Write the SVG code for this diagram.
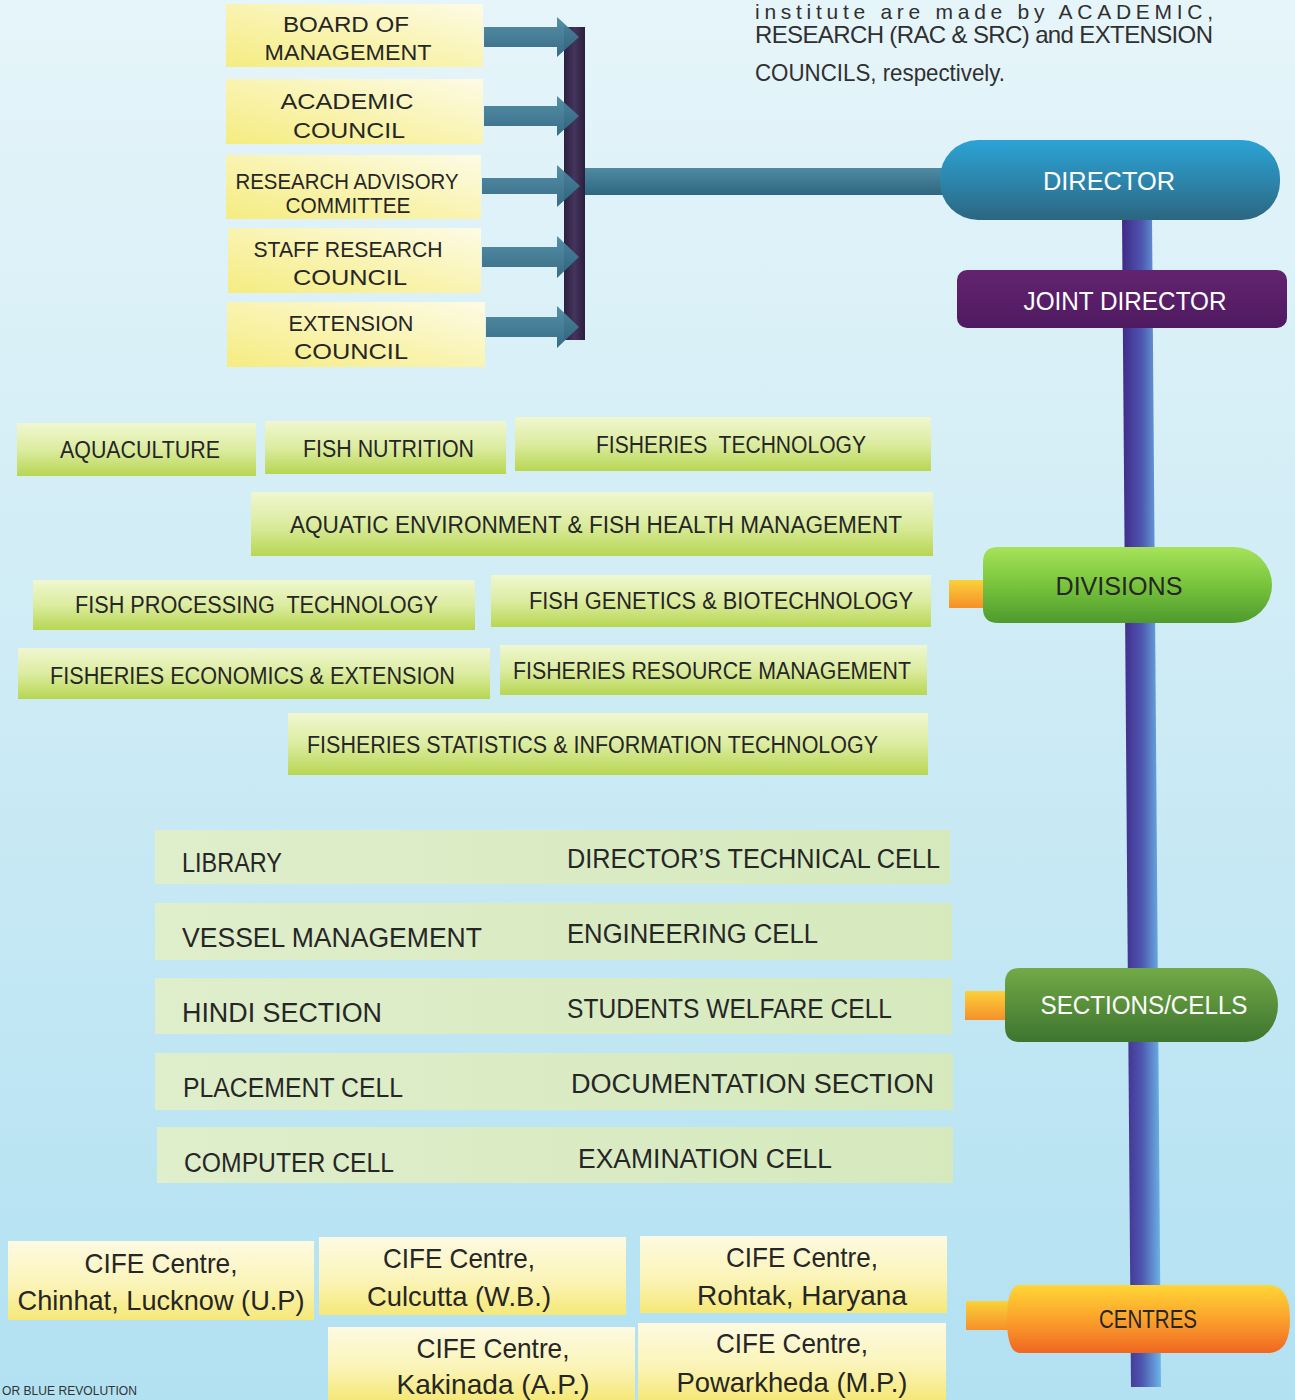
<svg xmlns="http://www.w3.org/2000/svg" width="1295" height="1400" viewBox="0 0 1295 1400">
<defs>
<linearGradient id="bg" x1="0" y1="0" x2="0" y2="1"><stop offset="0" stop-color="#e6f5fa"/><stop offset="0.5" stop-color="#cdebf5"/><stop offset="1" stop-color="#b2e1f2"/></linearGradient>
<linearGradient id="yel" x1="0" y1="1" x2="1" y2="0"><stop offset="0" stop-color="#f5ec80"/><stop offset="0.6" stop-color="#faf5bc"/><stop offset="1" stop-color="#fdfbe6"/></linearGradient>
<linearGradient id="cen" x1="0" y1="0" x2="0" y2="1"><stop offset="0" stop-color="#fdfae2"/><stop offset="0.55" stop-color="#fbf4b8"/><stop offset="1" stop-color="#f5e878"/></linearGradient>
<linearGradient id="div" x1="0" y1="0" x2="0" y2="1"><stop offset="0" stop-color="#f0f7d0"/><stop offset="0.5" stop-color="#dcecA0"/><stop offset="1" stop-color="#b7d652"/></linearGradient>
<linearGradient id="sec" x1="0" y1="0" x2="1" y2="0"><stop offset="0" stop-color="#dfeecb"/><stop offset="1" stop-color="#d6e9bd"/></linearGradient>
<linearGradient id="arr" x1="0" y1="0" x2="0" y2="1"><stop offset="0" stop-color="#4f8aa3"/><stop offset="1" stop-color="#2f6680"/></linearGradient>
<linearGradient id="bar" x1="0" y1="0" x2="1" y2="0"><stop offset="0" stop-color="#2c2040"/><stop offset="0.5" stop-color="#45345c"/><stop offset="1" stop-color="#2a1e3c"/></linearGradient>
<linearGradient id="spine" x1="0" y1="0" x2="1" y2="0"><stop offset="0" stop-color="#3f2a86"/><stop offset="0.5" stop-color="#4d55b0"/><stop offset="1" stop-color="#6bb6e6"/></linearGradient>
<linearGradient id="dir" x1="0" y1="0" x2="0" y2="1"><stop offset="0" stop-color="#2ba3d6"/><stop offset="0.5" stop-color="#2c86ad"/><stop offset="1" stop-color="#2c6680"/></linearGradient>
<linearGradient id="jd" x1="0" y1="0" x2="0" y2="1"><stop offset="0" stop-color="#63236f"/><stop offset="1" stop-color="#4e1a60"/></linearGradient>
<linearGradient id="green" x1="0" y1="0" x2="0" y2="1"><stop offset="0" stop-color="#a6e35a"/><stop offset="0.5" stop-color="#78c43c"/><stop offset="1" stop-color="#4e9a2e"/></linearGradient>
<linearGradient id="dgreen" x1="0" y1="0" x2="0" y2="1"><stop offset="0" stop-color="#72aa48"/><stop offset="0.5" stop-color="#588f3a"/><stop offset="1" stop-color="#3d7530"/></linearGradient>
<linearGradient id="orange" x1="0" y1="0" x2="0" y2="1"><stop offset="0" stop-color="#ffd635"/><stop offset="0.5" stop-color="#fba22c"/><stop offset="1" stop-color="#f06622"/></linearGradient>
<linearGradient id="stub" x1="0" y1="0" x2="0" y2="1"><stop offset="0" stop-color="#fbd23a"/><stop offset="1" stop-color="#f5902a"/></linearGradient>
</defs>
<style>
text{font-family:"Liberation Sans","DejaVu Sans",sans-serif;fill:#262626}
.c{text-anchor:middle}
.w{fill:#ffffff}
.t22{font-size:22px}
.t23{font-size:23px}
.t27{font-size:27px}
.t28{font-size:28px}
.t25{font-size:25px}
.t24{font-size:24px;fill:#303030}
</style>
<rect x="0" y="0" width="1295" height="1400" fill="url(#bg)"/>

<g id="intro-text">
<text class="t24" x="755" y="19" textLength="458" lengthAdjust="spacing" style="font-size:21px">institute are made by ACADEMIC,</text>
<text class="t24" x="755" y="43" textLength="458" lengthAdjust="spacing">RESEARCH (RAC &amp; SRC) and EXTENSION</text>
<text class="t24" x="755" y="81" textLength="250" lengthAdjust="spacingAndGlyphs">COUNCILS, respectively.</text>
</g>

<g id="connectors">
<polygon points="1122,215 1152,215 1161,1387 1131,1387" fill="url(#spine)"/>
<rect x="583" y="168" width="362" height="27" fill="url(#arr)"/>
<rect x="564" y="27" width="21" height="313" fill="url(#bar)"/>
<g fill="url(#arr)" opacity="0.95">
<path d="M484,27 H557 V17 L579,37 L557,57 V47 H484 Z"/>
<path d="M484,106 H557 V96 L579,116 L557,136 V126 H484 Z"/>
<path d="M482,178 H557 V165 L580,186 L557,207 V194 H482 Z"/>
<path d="M482,247 H557 V236 L579,257 L557,278 V267 H482 Z"/>
<path d="M486,317 H557 V306 L579,327 L557,348 V337 H486 Z"/>
</g>
</g>

<g id="board-of-management">
<rect x="226" y="4" width="257" height="63" fill="url(#yel)"/>
<text class="t22 c" x="346" y="32" textLength="126" lengthAdjust="spacingAndGlyphs">BOARD OF</text>
<text class="t22 c" x="348" y="60" textLength="167" lengthAdjust="spacingAndGlyphs">MANAGEMENT</text>
</g>
<g id="academic-council">
<rect x="226" y="79" width="257" height="65" fill="url(#yel)"/>
<text class="t22 c" x="347" y="109" textLength="133" lengthAdjust="spacingAndGlyphs">ACADEMIC</text>
<text class="t22 c" x="349" y="138" textLength="112" lengthAdjust="spacingAndGlyphs">COUNCIL</text>
</g>
<g id="research-advisory-committee">
<rect x="226" y="155" width="255" height="64" fill="url(#yel)"/>
<text class="t22 c" x="347" y="189" textLength="223" lengthAdjust="spacingAndGlyphs">RESEARCH ADVISORY</text>
<text class="t22 c" x="348" y="213" textLength="125" lengthAdjust="spacingAndGlyphs">COMMITTEE</text>
</g>
<g id="staff-research-council">
<rect x="228" y="228" width="253" height="65" fill="url(#yel)"/>
<text class="t22 c" x="348" y="257" textLength="189" lengthAdjust="spacingAndGlyphs">STAFF RESEARCH</text>
<text class="t22 c" x="350" y="285" textLength="114" lengthAdjust="spacingAndGlyphs">COUNCIL</text>
</g>
<g id="extension-council">
<rect x="227" y="302" width="258" height="65" fill="url(#yel)"/>
<text class="t22 c" x="351" y="331" textLength="125" lengthAdjust="spacingAndGlyphs">EXTENSION</text>
<text class="t22 c" x="351" y="359" textLength="114" lengthAdjust="spacingAndGlyphs">COUNCIL</text>
</g>

<g id="director">
<rect x="940" y="140" width="340" height="80" rx="38" fill="url(#dir)"/>
<text class="t25 c w" x="1109" y="190" textLength="132" lengthAdjust="spacingAndGlyphs">DIRECTOR</text>
</g>
<g id="joint-director">
<rect x="957" y="270" width="330" height="58" rx="10" fill="url(#jd)"/>
<text class="t25 c w" x="1125" y="310" textLength="203" lengthAdjust="spacingAndGlyphs">JOINT DIRECTOR</text>
</g>
<g id="divisions">
<rect x="949" y="580" width="40" height="28" fill="url(#stub)"/>
<path d="M998,547 H1234 A38,38 0 0 1 1234,623 H998 Q983,623 983,608 V562 Q983,547 998,547 Z" fill="url(#green)"/>
<text class="t25 c" x="1119" y="595" textLength="127" lengthAdjust="spacingAndGlyphs">DIVISIONS</text>
</g>
<g id="sections-cells">
<rect x="965" y="991" width="45" height="29" fill="url(#stub)"/>
<path d="M1020,968 H1246 A32,37 0 0 1 1246,1042 H1020 Q1005,1042 1005,1027 V983 Q1005,968 1020,968 Z" fill="url(#dgreen)"/>
<text class="t25 c w" x="1144" y="1014" textLength="207" lengthAdjust="spacingAndGlyphs">SECTIONS/CELLS</text>
</g>
<g id="centres">
<rect x="966" y="1301" width="46" height="29" fill="url(#stub)"/>
<path d="M1020,1285 H1268 Q1290,1285 1290,1319 Q1290,1353 1268,1353 H1020 Q1007,1353 1007,1319 Q1007,1285 1020,1285 Z" fill="url(#orange)"/>
<text class="t25 c" x="1148" y="1328" textLength="98" lengthAdjust="spacingAndGlyphs">CENTRES</text>
</g>

<g id="div-aquaculture"><rect x="17" y="423" width="239" height="53" fill="url(#div)"/><text class="t23" x="60" y="458" textLength="160" lengthAdjust="spacingAndGlyphs">AQUACULTURE</text></g>
<g id="div-fish-nutrition"><rect x="265" y="421" width="241" height="53" fill="url(#div)"/><text class="t23" x="303" y="457" textLength="171" lengthAdjust="spacingAndGlyphs">FISH NUTRITION</text></g>
<g id="div-fisheries-technology"><rect x="515" y="417" width="416" height="54" fill="url(#div)"/><text class="t23" x="596" y="453" textLength="270" lengthAdjust="spacingAndGlyphs" xml:space="preserve">FISHERIES  TECHNOLOGY</text></g>
<g id="div-aquatic-environment"><rect x="251" y="492" width="682" height="64" fill="url(#div)"/><text class="t23" x="290" y="533" textLength="612" lengthAdjust="spacingAndGlyphs">AQUATIC ENVIRONMENT &amp; FISH HEALTH MANAGEMENT</text></g>
<g id="div-fish-processing"><rect x="33" y="580" width="442" height="50" fill="url(#div)"/><text class="t23" x="75" y="613" textLength="363" lengthAdjust="spacingAndGlyphs" xml:space="preserve">FISH PROCESSING  TECHNOLOGY</text></g>
<g id="div-fish-genetics"><rect x="491" y="575" width="440" height="52" fill="url(#div)"/><text class="t23" x="529" y="609" textLength="384" lengthAdjust="spacingAndGlyphs">FISH GENETICS &amp; BIOTECHNOLOGY</text></g>
<g id="div-fisheries-economics"><rect x="18" y="648" width="472" height="51" fill="url(#div)"/><text class="t23" x="50" y="684" textLength="405" lengthAdjust="spacingAndGlyphs">FISHERIES ECONOMICS &amp; EXTENSION</text></g>
<g id="div-fisheries-resource"><rect x="500" y="645" width="427" height="50" fill="url(#div)"/><text class="t23" x="513" y="679" textLength="398" lengthAdjust="spacingAndGlyphs">FISHERIES RESOURCE MANAGEMENT</text></g>
<g id="div-fisheries-statistics"><rect x="288" y="713" width="640" height="62" fill="url(#div)"/><text class="t23" x="307" y="753" textLength="571" lengthAdjust="spacingAndGlyphs">FISHERIES STATISTICS &amp; INFORMATION TECHNOLOGY</text></g>

<g id="sections-row-1"><rect x="155" y="830" width="795" height="54" fill="url(#sec)"/>
<text class="t27" x="182" y="872" textLength="100" lengthAdjust="spacingAndGlyphs">LIBRARY</text>
<text class="t27" x="567" y="868" textLength="373" lengthAdjust="spacingAndGlyphs">DIRECTOR’S TECHNICAL CELL</text></g>
<g id="sections-row-2"><rect x="155" y="903" width="797" height="57" fill="url(#sec)"/>
<text class="t27" x="182" y="947" textLength="300" lengthAdjust="spacingAndGlyphs">VESSEL MANAGEMENT</text>
<text class="t27" x="567" y="943" textLength="251" lengthAdjust="spacingAndGlyphs">ENGINEERING CELL</text></g>
<g id="sections-row-3"><rect x="155" y="978" width="797" height="56" fill="url(#sec)"/>
<text class="t27" x="182" y="1022" textLength="200" lengthAdjust="spacingAndGlyphs">HINDI SECTION</text>
<text class="t27" x="567" y="1018" textLength="325" lengthAdjust="spacingAndGlyphs">STUDENTS WELFARE CELL</text></g>
<g id="sections-row-4"><rect x="155" y="1053" width="798" height="57" fill="url(#sec)"/>
<text class="t27" x="183" y="1097" textLength="220" lengthAdjust="spacingAndGlyphs">PLACEMENT CELL</text>
<text class="t27" x="571" y="1093" textLength="363" lengthAdjust="spacingAndGlyphs">DOCUMENTATION SECTION</text></g>
<g id="sections-row-5"><rect x="157" y="1127" width="796" height="56" fill="url(#sec)"/>
<text class="t27" x="184" y="1172" textLength="210" lengthAdjust="spacingAndGlyphs">COMPUTER CELL</text>
<text class="t27" x="578" y="1168" textLength="254" lengthAdjust="spacingAndGlyphs">EXAMINATION CELL</text></g>

<g id="centre-lucknow"><rect x="8" y="1241" width="306" height="79" fill="url(#cen)"/>
<text class="t28 c" x="161" y="1273" textLength="153" lengthAdjust="spacingAndGlyphs">CIFE Centre,</text>
<text class="t28 c" x="161" y="1310" textLength="287" lengthAdjust="spacingAndGlyphs">Chinhat, Lucknow (U.P)</text></g>
<g id="centre-culcutta"><rect x="319" y="1237" width="307" height="78" fill="url(#cen)"/>
<text class="t28 c" x="459" y="1268" textLength="152" lengthAdjust="spacingAndGlyphs">CIFE Centre,</text>
<text class="t28 c" x="459" y="1306" textLength="184" lengthAdjust="spacingAndGlyphs">Culcutta (W.B.)</text></g>
<g id="centre-rohtak"><rect x="640" y="1236" width="307" height="77" fill="url(#cen)"/>
<text class="t28 c" x="802" y="1267" textLength="152" lengthAdjust="spacingAndGlyphs">CIFE Centre,</text>
<text class="t28 c" x="802" y="1305" textLength="210" lengthAdjust="spacingAndGlyphs">Rohtak, Haryana</text></g>
<g id="centre-kakinada"><rect x="328" y="1327" width="307" height="73" fill="url(#cen)"/>
<text class="t28 c" x="493" y="1358" textLength="153" lengthAdjust="spacingAndGlyphs">CIFE Centre,</text>
<text class="t28 c" x="493" y="1394" textLength="193" lengthAdjust="spacingAndGlyphs">Kakinada (A.P.)</text></g>
<g id="centre-powarkheda"><rect x="638" y="1323" width="308" height="77" fill="url(#cen)"/>
<text class="t28 c" x="792" y="1353" textLength="152" lengthAdjust="spacingAndGlyphs">CIFE Centre,</text>
<text class="t28 c" x="792" y="1392" textLength="231" lengthAdjust="spacingAndGlyphs">Powarkheda (M.P.)</text></g>

<g id="footer-text">
<text x="2" y="1395" style="font-size:12px;fill:#333" textLength="135" lengthAdjust="spacingAndGlyphs">OR BLUE REVOLUTION</text>
</g>
</svg>
